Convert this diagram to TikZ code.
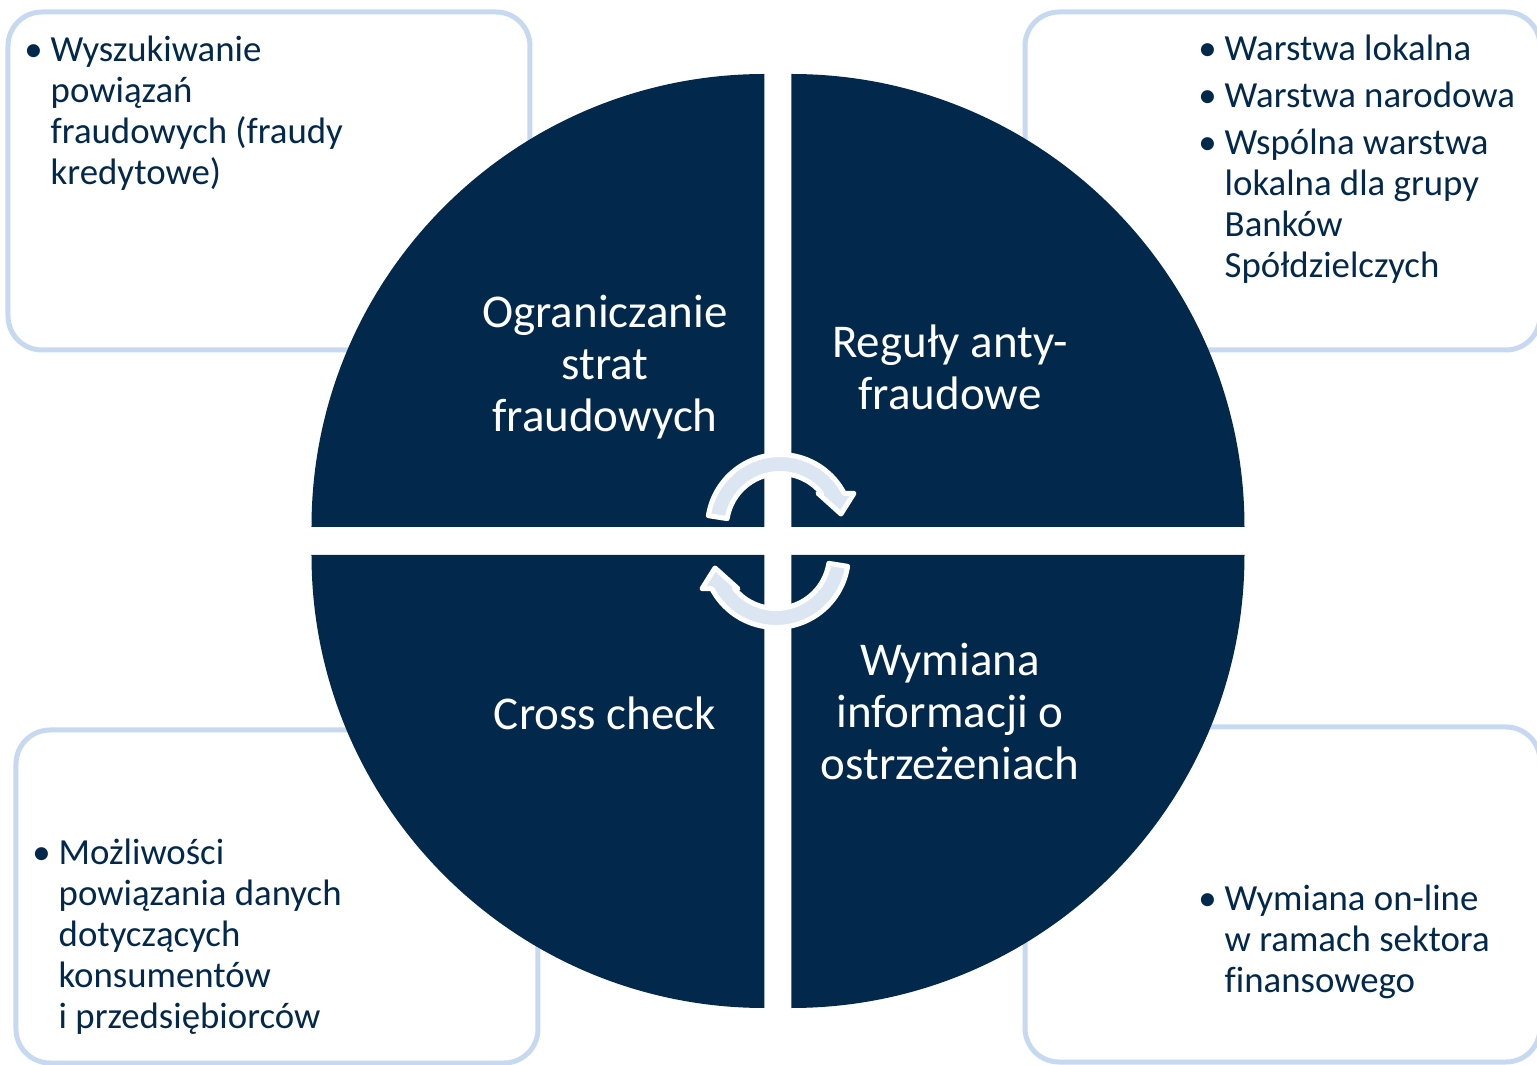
\documentclass[tikz,border=0pt]{standalone}
\usepackage{fontspec}
\setmainfont[Ligatures=NoCommon]{Carlito}
\usepackage{tikz}
\definecolor{navy}{RGB}{2,40,75}
\definecolor{framecol}{RGB}{198,217,241}
\definecolor{arrowfill}{RGB}{220,230,242}

\begin{document}
\begin{tikzpicture}[x=0.5pt,y=0.5pt]
  \tikzstyle{sidebox} = [draw=framecol,line width=2.5pt,fill=white,rounded corners=17pt]
  \tikzstyle{quarter} = [fill=navy]
  \tikzstyle{title} = [text=white,align=center,font=\fontsize{23.5}{26}\selectfont]
  \tikzstyle{note} = [text=navy,anchor=base west,inner sep=0pt,font=\fontsize{18.4}{20.5}\selectfont]
  \tikzstyle{cyclearrow} = [fill=arrowfill,draw=white,line width=2.5pt,line join=round]
  \useasboundingbox (-778,-524) rectangle (759,541);
  %
  % Side boxes.
  \draw[sidebox] (-770,529) rectangle (-248,191);
  \draw[sidebox] (247,529) rectangle (762,191);
  \draw[sidebox] (-762,-189) rectangle (-240,-522);
  \draw[sidebox] (247,-186) rectangle (762,-521);

  % Four quarters of the disc.
  \fill[quarter] (-13.5,14) -- (-466.5,14) arc[start angle=180,end angle=90,radius=453] -- cycle;
  \fill[quarter] (13.5,14) -- (13.5,467) arc[start angle=90,end angle=0,radius=453] -- cycle;
  \fill[quarter] (-13.5,-14) -- (-13.5,-467) arc[start angle=270,end angle=180,radius=453] -- cycle;
  \fill[quarter] (13.5,-14) -- (466.5,-14) arc[start angle=0,end angle=-90,radius=453] -- cycle;

  % Quarter titles.
  \node[title] (limit) at (-173,174) {Ograniczanie\\strat\\fraudowych};
  \node[title] (rules) at (172,174) {Reguły anty-\\fraudowe};
  \node[title] (cross) at (-173,-172) {Cross check};
  \node[title] (exchange) at (172,-171) {Wymiana\\informacji o\\ostrzeżeniach};

  % Cycle arrows.
  \foreach \ang in {0,180}
    \path[cyclearrow,rotate=\ang,shift={(2,14)}]
      (171:72.5) arc[start angle=171,end angle=27.7,radius=72.5]
      -- (74,33.7) -- (61,13) -- (38,33.7) -- (38.8:53.5)
      arc[start angle=38.8,end angle=171,radius=53.5] -- cycle;

  % Notes in the side boxes.
  \node[note] (limitnote) at (-754,479) {\begin{tabular}[t]{@{}l@{\hspace{4pt}}l@{}}
    \textbullet & Wyszukiwanie\\ & powiązań\\ & fraudowych (fraudy\\ & kredytowe)\end{tabular}};
  \node[note] (rulesnote) at (420,480) {\begin{tabular}[t]{@{}l@{\hspace{4pt}}l@{}}
    \textbullet & Warstwa lokalna\\[3pt] \textbullet & Warstwa narodowa\\[3pt]
    \textbullet & Wspólna warstwa\\ & lokalna dla grupy\\ & Banków\\ & Spółdzielczych\end{tabular}};
  \node[note] (crossnote) at (-746,-323) {\begin{tabular}[t]{@{}l@{\hspace{4pt}}l@{}}
    \textbullet & Możliwości\\ & powiązania danych\\ & dotyczących\\ & konsumentów\\ & i przedsiębiorców\end{tabular}};
  \node[note] (exchangenote) at (420,-369) {\begin{tabular}[t]{@{}l@{\hspace{4pt}}l@{}}
    \textbullet & Wymiana on-line\\ & w ramach sektora\\ & finansowego\end{tabular}};
\end{tikzpicture}
\end{document}
